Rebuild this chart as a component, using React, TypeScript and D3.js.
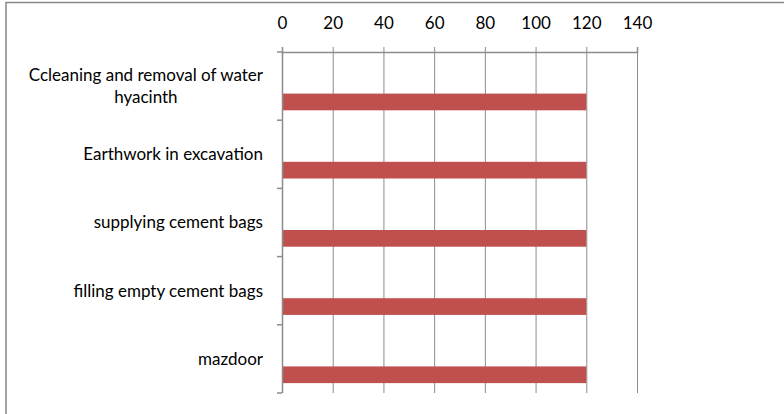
import React, { useRef, useEffect } from "react";
import * as d3 from "d3";

const categories = [
  "Ccleaning and removal of water hyacinth",
  "Earthwork in excavation",
  "supplying cement bags",
  "filling empty cement bags",
  "mazdoor",
];
const values = [120, 120, 120, 120, 120];
const xTicks = [0, 20, 40, 60, 80, 100, 120, 140];

// long labels get wrapped like in the original
const labelLines: { [k: string]: string[] } = {
  "Ccleaning and removal of water hyacinth": [
    "Ccleaning and removal of water",
    "hyacinth",
  ],
};

const App = () => {
  const ref = useRef<SVGSVGElement>(null);

  useEffect(() => {
    if (!ref.current) return;
    const W = 784;
    const H = 414;
    const margin = { top: 52, right: 147, bottom: 21, left: 282 };
    const width = W - margin.left - margin.right;
    const height = H - margin.top - margin.bottom;
    const font = "Lato, 'Open Sans', sans-serif";
    const fs = 17;
    const grey = "#8c8c8c";

    const svg = d3.select(ref.current);
    svg.selectAll("*").remove();

    // outer chart frame (runs off the right / bottom edge)
    svg
      .append("rect")
      .attr("x", 6)
      .attr("y", 2.5)
      .attr("width", 800)
      .attr("height", 430)
      .attr("fill", "white")
      .attr("stroke", "#868686")
      .attr("stroke-width", 1.5);

    const g = svg
      .append("g")
      .attr("transform", `translate(${margin.left},${margin.top})`);

    const x = d3.scaleLinear().domain([0, 140]).range([0, width]);
    const y = d3.scaleBand().domain(categories).range([0, height]);

    // vertical gridlines
    g.append("g")
      .selectAll("line")
      .data(xTicks.slice(1))
      .join("line")
      .attr("x1", (d) => x(d) + 0.5)
      .attr("x2", (d) => x(d) + 0.5)
      .attr("y1", 0)
      .attr("y2", height)
      .attr("stroke", grey)
      .attr("stroke-width", 1);

    // bars
    g.append("g")
      .selectAll("rect")
      .data(categories)
      .join("rect")
      .attr("x", x(0))
      .attr("y", (d) => (y(d) as number) + y.bandwidth() * 0.61)
      .attr("width", (_, i) => x(values[i]) - x(0))
      .attr("height", y.bandwidth() * 0.245)
      .attr("fill", "#C0504D");

    // top axis
    const xAxis = g
      .append("g")
      .call(
        d3
          .axisTop(x)
          .tickValues(xTicks)
          .tickSize(5)
          .tickSizeOuter(5)
          .tickPadding(18)
      );
    xAxis.select(".domain").attr("stroke", grey).attr("stroke-width", 1.5);
    xAxis.selectAll(".tick line").attr("stroke", grey);
    xAxis
      .selectAll(".tick text")
      .attr("font-family", font)
      .attr("font-size", fs)
      .attr("fill", "#000");

    // left axis with ticks between categories
    const bounds = d3.range(categories.length + 1).map((i) => i * y.step());
    const yAxis = g.append("g");
    yAxis
      .append("line")
      .attr("x1", 0.5)
      .attr("x2", 0.5)
      .attr("y1", 0)
      .attr("y2", height)
      .attr("stroke", grey)
      .attr("stroke-width", 1.5);
    yAxis
      .selectAll("line.tk")
      .data(bounds)
      .join("line")
      .attr("class", "tk")
      .attr("x1", -5)
      .attr("x2", 0)
      .attr("y1", (d) => d)
      .attr("y2", (d) => d)
      .attr("stroke", grey)
      .attr("stroke-width", 1.5);

    // category labels
    const labelRight = -19;
    const lineH = 22;
    categories.forEach((c) => {
      const lines = labelLines[c] || [c];
      const cy = (y(c) as number) + y.bandwidth() / 2;
      const t = g
        .append("text")
        .attr("font-family", font)
        .attr("font-size", fs)
        .attr("fill", "#000")
        .attr("text-anchor", "middle");
      const spans = lines.map((l, i) =>
        t
          .append("tspan")
          .attr("y", cy + (i - (lines.length - 1) / 2) * lineH)
          .attr("dy", "0.35em")
          .text(l)
      );
      const maxW = d3.max(spans, (s) => (s.node() as SVGTSpanElement).getComputedTextLength()) as number;
      spans.forEach((s) => s.attr("x", labelRight - maxW / 2));
    });
  }, []);

  return (
    <svg
      ref={ref}
      width={784}
      height={414}
      style={{ position: "absolute", left: 0, top: 0, background: "white" }}
    />
  );
};

export default App;
